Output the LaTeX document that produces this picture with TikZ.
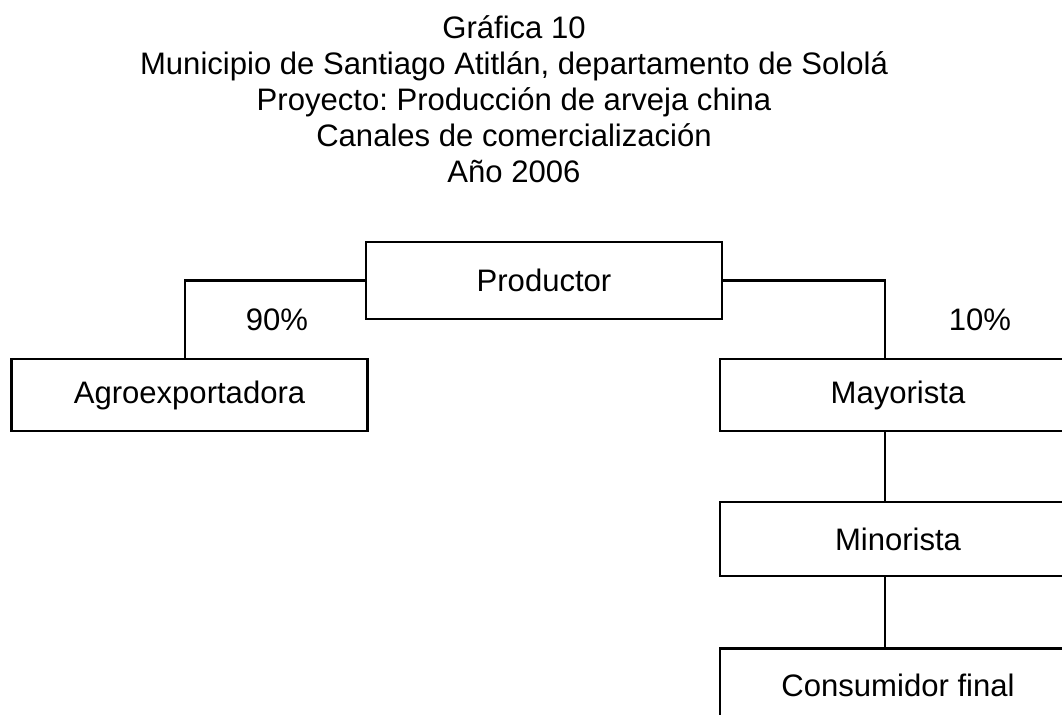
\documentclass[tikz,border=0pt]{standalone}
\usepackage{fontspec}
\setmainfont{Liberation Sans}
\frenchspacing
\begin{document}
\begin{tikzpicture}[x=0.75pt,y=-0.75pt,
  every node/.style={font=\fontsize{23.3}{27}\selectfont},
  titletext/.style={anchor=base,inner sep=0pt},
  chbox/.style={draw,line width=2.2pt,rectangle,inner sep=0pt,minimum width=267pt},
  link/.style={line width=2.2pt},
  pct/.style={inner sep=0pt}]
\useasboundingbox (0,0) rectangle (1062,714);
\clip (0,0) rectangle (1062,714);
\node[titletext] (t1) at (514,38) {Gráfica 10};
\node[titletext] (t2) at (514,74) {Municipio de Santiago Atitlán, departamento de Sololá};
\node[titletext] (t3) at (514,110) {Proyecto: Producción de arveja china};
\node[titletext] (t4) at (514,146) {Canales de comercialización};
\node[titletext] (t5) at (514,182) {Año 2006};

\node[chbox,minimum height=57.75pt] (prod) at (544,280.5) {Productor};
\node[chbox,minimum height=54pt] (agro) at (189.5,395) {Agroexportadora};
\node[chbox,minimum height=54pt] (may) at (898,395) {Mayorista};
\node[chbox,minimum height=55.5pt] (min) at (898,539) {Minorista};
\node[chbox,minimum height=55pt] (cons) at (898,685.5) {Consumidor final};

\coordinate (lx) at (185,0);
\coordinate (rx) at (885,0);
\draw[link] (prod.west) -| (agro.north -| lx);
\draw[link] (prod.east) -| (may.north -| rx);
\draw[link] (may.south -| rx) -- (min.north -| rx);
\draw[link] (min.south -| rx) -- (cons.north -| rx);

\node[pct] (p90) at (277,320) {90\%};
\node[pct] (p10) at (980,320) {10\%};
\end{tikzpicture}
\end{document}
